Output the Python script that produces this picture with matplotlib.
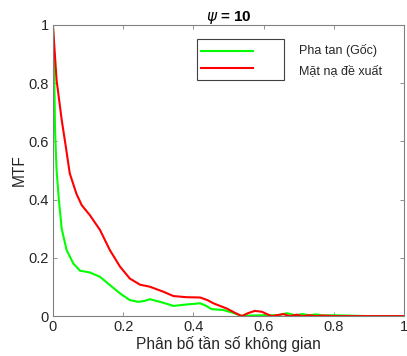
import matplotlib
matplotlib.use("Agg")
import matplotlib.pyplot as plt
from matplotlib.patches import Rectangle

plt.rcParams['font.family'] = ['Liberation Sans', 'DejaVu Sans']

# Data
x_green = [0, 0.003, 0.006, 0.0105, 0.017, 0.025, 0.039, 0.058, 0.077, 0.105, 0.134, 0.162,
           0.191, 0.219, 0.243, 0.26, 0.276, 0.305, 0.325, 0.343, 0.381, 0.419, 0.435,
           0.452, 0.485, 0.514, 0.533, 0.56, 0.6, 0.64, 0.667, 0.69, 0.71, 0.73, 0.75,
           0.77, 0.8, 0.9, 1.0]
y_green = [1, 0.90, 0.64, 0.50, 0.40, 0.30, 0.227, 0.181, 0.156, 0.15, 0.135, 0.107,
           0.078, 0.055, 0.049, 0.052, 0.058, 0.049, 0.042, 0.035, 0.04, 0.044, 0.036,
           0.024, 0.021, 0.011, 0.002, 0.002, 0.003, 0.003, 0.01, 0.003, 0.007, 0.003,
           0.006, 0.002, 0.003, 0, 0]

x_red = [0, 0.0105, 0.025, 0.037, 0.048, 0.067, 0.082, 0.105, 0.134, 0.162, 0.191,
         0.219, 0.248, 0.276, 0.314, 0.343, 0.38, 0.419, 0.44, 0.457, 0.495, 0.519,
         0.538, 0.555, 0.575, 0.595, 0.609, 0.623, 0.656, 0.675, 0.694, 0.71, 0.73,
         0.75, 0.77, 0.8, 0.9, 1.0]
y_red = [1, 0.81, 0.674, 0.58, 0.49, 0.42, 0.381, 0.347, 0.296, 0.227, 0.17,
         0.129, 0.108, 0.101, 0.084, 0.069, 0.065, 0.064, 0.055, 0.044, 0.026, 0.011,
         0.0, 0.01, 0.018, 0.015, 0.007, 0.0, 0.007, 0.0, 0.005, 0.0, 0.003,
         0.0, 0.002, 0.0, 0, 0]

labels = ["Pha tan (Gốc)", "Mặt nạ đề xuất"]
ticks = [0, 0.2, 0.4, 0.6, 0.8, 1]
tick_labels = ["0", "0.2", "0.4", "0.6", "0.8", "1"]

fig = plt.figure(figsize=(4.07, 3.56), dpi=100)
ax = fig.add_axes([0.130, 0.112, 0.863, 0.818])

ax.plot(x_green, y_green, color='#00ff00', lw=1.5, solid_joinstyle='round')
ax.plot(x_red, y_red, color='#ff0000', lw=1.5, solid_joinstyle='round')

ax.set_xlim(0, 1)
ax.set_ylim(0, 1)
ax.set_xticks(ticks)
ax.set_xticklabels(tick_labels)
ax.set_yticks(ticks)
ax.set_yticklabels(tick_labels)
ax.tick_params(direction='in', top=True, right=True, length=3, width=0.6,
               color='#808080', labelcolor='#262626', labelsize=10.5, pad=3)
for s in ax.spines.values():
    s.set_color('#808080')
    s.set_linewidth(0.8)

ax.set_xlabel("Phân bố tần số không gian", fontsize=11.2, color='#262626', labelpad=1)
ax.set_ylabel("MTF", fontsize=11.2, color='#262626', labelpad=1)
ax.set_title(r"$\psi$ = 10", fontsize=11, fontweight='bold', color='#000000', pad=3)

# MATLAB-style legend: box with line samples, text to the right
ax.add_patch(Rectangle((0.409, 0.810), 0.248, 0.141, transform=ax.transAxes,
                       fill=True, facecolor='white', edgecolor='#404040', lw=0.8))
ax.plot([0.422, 0.570], [0.912, 0.912], color='#00ff00', lw=1.5, transform=ax.transAxes)
ax.plot([0.422, 0.570], [0.851, 0.851], color='#ff0000', lw=1.5, transform=ax.transAxes)
ax.text(0.700, 0.912, labels[0], transform=ax.transAxes, fontsize=9,
        va='center', ha='left', color='#262626')
ax.text(0.700, 0.843, labels[1], transform=ax.transAxes, fontsize=9,
        va='center', ha='left', color='#262626')

fig.savefig("out.png", dpi=100)
